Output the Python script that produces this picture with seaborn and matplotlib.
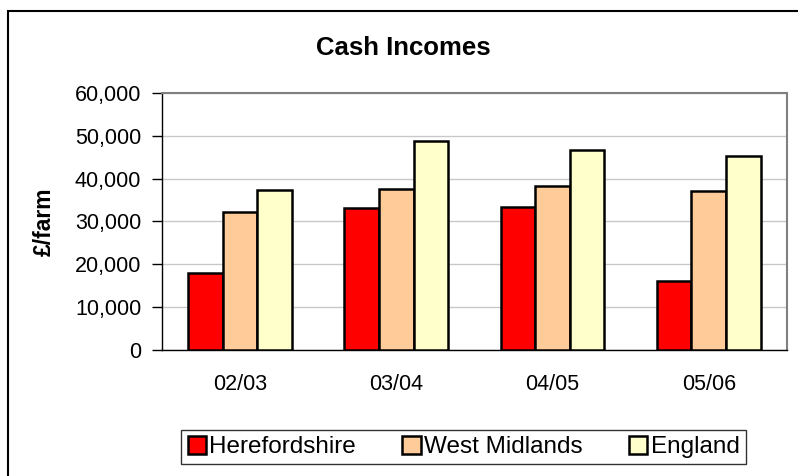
import pandas as pd
import numpy as np
import seaborn as sns
import matplotlib.pyplot as plt
from matplotlib.patches import Rectangle

# values (£ per farm)
years = ['02/03', '03/04', '04/05', '05/06']
herefordshire = [17900, 33100, 33400, 16000]
west_midlands = [32300, 37500, 38200, 37100]
england = [37300, 48700, 46700, 45200]
regions = ['Herefordshire', 'West Midlands', 'England']
colours = ['#FF0000', '#FFCC99', '#FFFFCC']

df = pd.DataFrame({'year': years * 3,
                   'region': np.repeat(regions, len(years)),
                   'income': herefordshire + west_midlands + england})

sns.set_style('white')
plt.rcParams['font.family'] = ['Liberation Sans', 'DejaVu Sans']
plt.rcParams['text.color'] = 'black'
plt.rcParams['xtick.color'] = 'black'
plt.rcParams['ytick.color'] = 'black'
plt.rcParams['axes.labelcolor'] = 'black'

fig = plt.figure(figsize=(7.98, 4.76), dpi=100)
ax = fig.add_axes([0.203, 0.2647, 0.783, 0.54])

sns.barplot(data=df, x='year', y='income', hue='region', palette=colours,
            saturation=1, edgecolor='black', linewidth=1.8, width=0.665,
            ax=ax, zorder=3)

ax.set_ylim(0, 60000)
ax.set_xlim(-0.5, 3.5)
ax.set_yticks(range(0, 60001, 10000))
ax.set_yticklabels([f'{v:,}' for v in range(0, 60001, 10000)], fontsize=15.5)
ax.yaxis.grid(True, color='#C8C8C8', linewidth=1, zorder=0)
ax.set_axisbelow(True)

ax.set_xticks(range(4))
ax.set_xticklabels(years, fontsize=15.5)
ax.set_xticks(np.arange(-0.5, 4, 1), minor=True)
ax.tick_params(axis='x', which='major', length=0, pad=17)
ax.tick_params(axis='x', which='minor', length=7, width=1, direction='out')
ax.tick_params(axis='y', length=7, width=1, direction='out', left=True, pad=8)

for side in ['left', 'bottom']:
    ax.spines[side].set_color('black')
    ax.spines[side].set_linewidth(1)
for side in ['top', 'right']:
    ax.spines[side].set_color('#808080')
    ax.spines[side].set_linewidth(1.5)

ax.set_xlabel('')
ax.set_ylabel('£/farm', fontsize=16.5, fontweight='bold', labelpad=14)

fig.text(0.506, 0.90, 'Cash Incomes', ha='center', va='center',
         fontsize=18.5, fontweight='bold')

handles, labels = ax.get_legend_handles_labels()
ax.legend_.remove()
leg = fig.legend(handles, labels, loc='center', bbox_to_anchor=(0.581, 0.061),
                 ncol=3, fontsize=17.5, frameon=True, fancybox=False,
                 handlelength=0.75, handleheight=0.75, handletextpad=0.15,
                 columnspacing=1.9, borderpad=0.25, borderaxespad=0)
leg.get_frame().set_edgecolor('black')
leg.get_frame().set_linewidth(1)
for h in leg.legend_handles:
    h.set_linewidth(1.8)

# outer chart border
fig.patches.append(Rectangle((8 / 798, -0.1), 1.2, 1.1 - 11 / 476,
                             transform=fig.transFigure, fill=False,
                             edgecolor='black', linewidth=1.5))

fig.savefig('out.png', dpi=100)
